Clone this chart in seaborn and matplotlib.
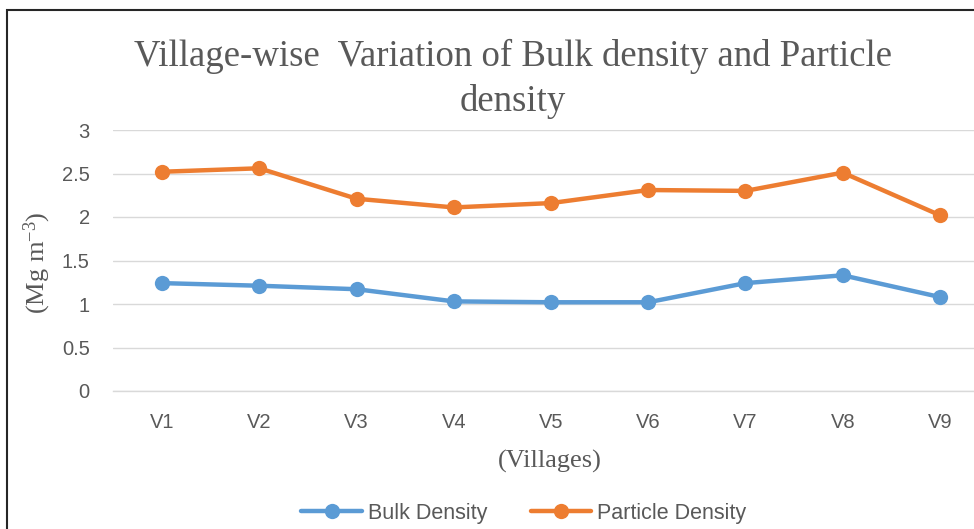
import matplotlib
matplotlib.use("Agg")
import matplotlib.pyplot as plt
import seaborn as sns
import pandas as pd
from matplotlib.patches import Rectangle
from matplotlib.lines import Line2D

villages = ["V1", "V2", "V3", "V4", "V5", "V6", "V7", "V8", "V9"]
bulk_density = [1.24, 1.21, 1.17, 1.03, 1.02, 1.02, 1.24, 1.33, 1.08]
particle_density = [2.52, 2.56, 2.21, 2.11, 2.16, 2.31, 2.30, 2.51, 2.02]
y_ticks = [0, 0.5, 1, 1.5, 2, 2.5, 3]

sns.set_theme(style="white")
plt.rcParams["mathtext.fontset"] = "custom"
plt.rcParams["mathtext.rm"] = "Liberation Serif"
plt.rcParams["mathtext.it"] = "Liberation Serif:italic"

df = pd.DataFrame({
    "Village": villages * 2,
    "Value": bulk_density + particle_density,
    "Series": ["Bulk Density"] * 9 + ["Particle Density"] * 9,
})

fig = plt.figure(figsize=(9.74, 5.29), dpi=100)
ax = fig.add_axes([113.4 / 974, 1 - 391 / 529, (988.6 - 113.4) / 974, (391 - 130) / 529])

palette = {"Bulk Density": "#5B9BD5", "Particle Density": "#ED7D31"}
sns.lineplot(data=df, x="Village", y="Value", hue="Series", palette=palette,
             marker="o", markersize=11, linewidth=3.2, markeredgewidth=0,
             sort=False, ax=ax, legend=False)

ax.set_ylim(0, 3)
ax.set_xlim(-0.5, 8.5)
ax.set_yticks(y_ticks)
ax.set_yticklabels([f"{t:g}" for t in y_ticks])
ax.grid(axis="y", color="#D9D9D9", linewidth=1)
ax.grid(axis="x", visible=False)
for s in ["top", "right", "left"]:
    ax.spines[s].set_visible(False)
ax.spines["bottom"].set_color("#D9D9D9")
ax.spines["bottom"].set_linewidth(1)
ax.tick_params(axis="both", length=0, labelcolor="#595959", labelsize=14.5)
ax.tick_params(axis="y", pad=17)
ax.tick_params(axis="x", pad=16)
for lab in ax.get_xticklabels() + ax.get_yticklabels():
    lab.set_family("Liberation Sans")

ax.set_xlabel("")
ax.set_ylabel("")
fig.text(550 / 974, 1 - 461 / 529, "(Villages)", ha="center", va="center",
         family="Liberation Serif", fontsize=19, color="#595959")
fig.text(37 / 974, 1 - 263 / 529, "(Mg m$^{\\mathregular{-3}}$)", ha="center", va="center",
         rotation=90, family="Liberation Serif", fontsize=19, color="#595959")

fig.text(513 / 974, 1 - 79 / 529,
         "Village-wise  Variation of Bulk density and Particle\ndensity",
         ha="center", va="center", family="Liberation Serif", fontsize=26.5,
         color="#595959", linespacing=1.35)

handles = [Line2D([0], [0], color=palette[k], lw=3.2, marker="o", markersize=11,
                  markeredgewidth=0) for k in palette]
fig.legend(handles, list(palette.keys()), loc="center", bbox_to_anchor=(524 / 974, 1 - 513 / 529),
           ncol=2, frameon=False, prop={"family": "Liberation Sans", "size": 15.5},
           labelcolor="#595959", handlelength=2.8, columnspacing=2.0, handletextpad=0.3)

fig.patches.append(Rectangle((7 / 974, -0.1), 1.2, (529 - 10) / 529 + 0.1,
                             transform=fig.transFigure, fill=False,
                             edgecolor="#262626", linewidth=1.5, zorder=10))

fig.savefig("out.png", dpi=100)
